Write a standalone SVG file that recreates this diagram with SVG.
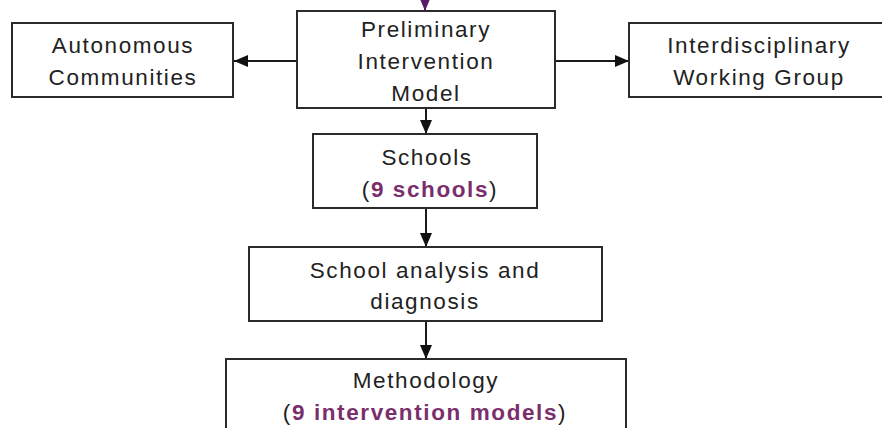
<svg xmlns="http://www.w3.org/2000/svg" width="882" height="428" viewBox="0 0 882 428">
<style>
.box{fill:#fff;stroke:#2b2b2b;stroke-width:2}
.t{font-family:"Liberation Sans",Arial,sans-serif;font-size:22.5px;fill:#222;text-anchor:middle;letter-spacing:1.6px}
.hl{font-weight:bold;fill:#7a2e6c}
.c{stroke:#1a1a1a;stroke-width:2;fill:none}
</style>
<defs>
<marker id="ah" viewBox="0 0 14 12" markerWidth="14" markerHeight="12" markerUnits="userSpaceOnUse" refX="14" refY="6" orient="auto">
<path d="M0,0 L14,6 L0,12 z" fill="#111"/>
</marker>
<marker id="ahp" viewBox="0 0 12 10" markerWidth="12" markerHeight="10" markerUnits="userSpaceOnUse" refX="12" refY="5" orient="auto">
<path d="M0,0 L12,5 L0,10 z" fill="#5a1a6a"/>
</marker>
</defs>
<rect width="882" height="428" fill="#fff"/>
<g id="connectors">
<line x1="425" y1="-10" x2="425" y2="11" stroke="#5a1a6a" stroke-width="2" marker-end="url(#ahp)"/>
<line class="c" x1="297" y1="61" x2="234" y2="61" marker-end="url(#ah)"/>
<line class="c" x1="555" y1="61" x2="629" y2="61" marker-end="url(#ah)"/>
<line class="c" x1="426" y1="108" x2="426" y2="134" marker-end="url(#ah)"/>
<line class="c" x1="426" y1="208" x2="426" y2="247" marker-end="url(#ah)"/>
<line class="c" x1="426" y1="321" x2="426" y2="359" marker-end="url(#ah)"/>
</g>
<g id="preliminary">
<rect class="box" x="297" y="11" width="258" height="97"/>
<text class="t" x="426" y="37">Preliminary</text>
<text class="t" x="426" y="69">Intervention</text>
<text class="t" x="426" y="101">Model</text>
</g>
<g id="autonomous">
<rect class="box" x="12" y="23" width="221" height="74"/>
<text class="t" x="123" y="53">Autonomous</text>
<text class="t" x="123" y="85">Communities</text>
</g>
<g id="interdisciplinary">
<rect class="box" x="629" y="23" width="262" height="74"/>
<text class="t" x="759" y="53">Interdisciplinary</text>
<text class="t" x="759" y="85">Working Group</text>
</g>
<g id="schools">
<rect class="box" x="313" y="134" width="224" height="74"/>
<text class="t" x="427" y="165">Schools</text>
<text class="t" x="430" y="197">(<tspan class="hl">9 schools</tspan>)</text>
</g>
<g id="analysis">
<rect class="box" x="249" y="247" width="353" height="74"/>
<text class="t" x="425" y="278">School analysis and</text>
<text class="t" x="425" y="309">diagnosis</text>
</g>
<g id="methodology">
<rect class="box" x="226" y="359" width="400" height="80"/>
<text class="t" x="426" y="388">Methodology</text>
<text class="t" x="425" y="420">(<tspan class="hl">9 intervention models</tspan>)</text>
</g>
</svg>
